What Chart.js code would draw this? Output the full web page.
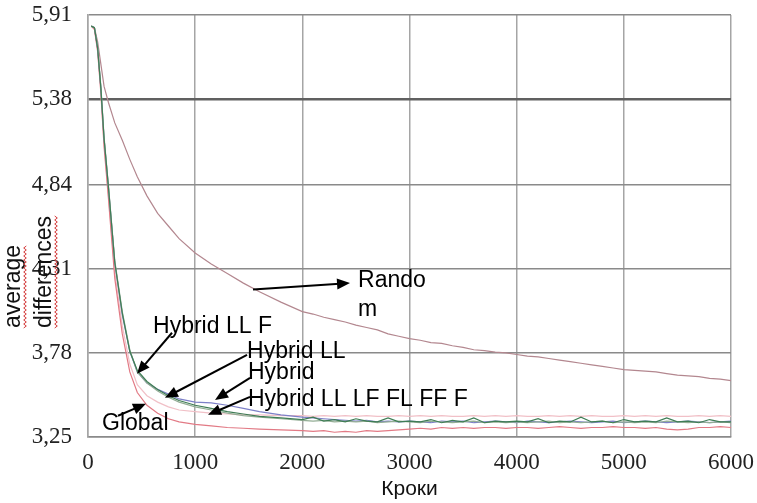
<!DOCTYPE html>
<html>
<head>
<meta charset="utf-8">
<script src="https://cdn.jsdelivr.net/npm/chart.js@4.4.1/dist/chart.umd.min.js"></script>
<style>
  body { margin: 0; background: #fff; }
</style>
</head>
<body>
<canvas id="convergence" width="757" height="503"></canvas>
<script>
  // steps (x) shared by every run
  const steps = [30, 60, 90, 120, 150, 190, 250, 320, 390, 460, 550, 650, 750, 850, 1000,
    1150, 1300, 1450, 1600, 1800, 2000, 2100, 2200, 2300, 2400, 2500, 2600, 2700, 2800, 2900,
    3000, 3100, 3200, 3300, 3400, 3500, 3600, 3700, 3800, 3900, 4000, 4100, 4200, 4300, 4400,
    4500, 4600, 4700, 4800, 4900, 5000, 5100, 5200, 5300, 5400, 5500, 5600, 5700, 5800, 5900, 6000];

  const randomRun = [5.84, 5.83, 5.74, 5.60, 5.46, 5.36, 5.23, 5.12, 5.00, 4.89, 4.77, 4.66, 4.58, 4.50, 4.41,
    4.34, 4.28, 4.22, 4.165, 4.10, 4.04, 4.025, 4.005, 3.99, 3.975, 3.955, 3.94, 3.925, 3.90, 3.885,
    3.87, 3.86, 3.845, 3.84, 3.825, 3.815, 3.80, 3.795, 3.785, 3.78, 3.77, 3.76, 3.755, 3.745, 3.735,
    3.725, 3.715, 3.705, 3.695, 3.685, 3.675, 3.67, 3.665, 3.66, 3.65, 3.64, 3.635, 3.63, 3.62, 3.615, 3.605];

  const hybridLLF = [5.84, 5.83, 5.71, 5.46, 5.14, 4.84, 4.36, 4.04, 3.80, 3.66, 3.59, 3.54, 3.50, 3.47, 3.44,
    3.42, 3.40, 3.385, 3.375, 3.365, 3.355, 3.35, 3.355, 3.345, 3.35, 3.345, 3.35, 3.34, 3.345, 3.35,
    3.345, 3.34, 3.35, 3.345, 3.34, 3.345, 3.35, 3.34, 3.345, 3.34, 3.345, 3.34, 3.345, 3.35, 3.34,
    3.345, 3.34, 3.345, 3.35, 3.34, 3.345, 3.34, 3.345, 3.34, 3.35, 3.345, 3.34, 3.345, 3.34, 3.345, 3.34];

  const hybridLL = [5.84, 5.83, 5.70, 5.45, 5.13, 4.83, 4.35, 4.03, 3.79, 3.67, 3.60, 3.55, 3.51, 3.48, 3.45,
    3.43, 3.41, 3.395, 3.38, 3.37, 3.36, 3.375, 3.35, 3.36, 3.345, 3.365, 3.35, 3.345, 3.37, 3.345,
    3.35, 3.345, 3.36, 3.34, 3.355, 3.345, 3.37, 3.34, 3.35, 3.345, 3.35, 3.345, 3.365, 3.34, 3.35,
    3.345, 3.375, 3.345, 3.35, 3.34, 3.36, 3.345, 3.35, 3.345, 3.37, 3.345, 3.35, 3.34, 3.36, 3.345, 3.345];

  const hybrid = [5.84, 5.83, 5.70, 5.45, 5.13, 4.83, 4.35, 4.02, 3.79, 3.66, 3.59, 3.55, 3.52, 3.49, 3.47,
    3.465, 3.45, 3.43, 3.41, 3.39, 3.375, 3.37, 3.365, 3.36, 3.355, 3.35, 3.355, 3.345, 3.35, 3.345,
    3.35, 3.345, 3.34, 3.35, 3.345, 3.35, 3.34, 3.345, 3.35, 3.345, 3.34, 3.35, 3.345, 3.34, 3.345,
    3.35, 3.345, 3.34, 3.345, 3.35, 3.34, 3.345, 3.35, 3.345, 3.34, 3.345, 3.35, 3.345, 3.34, 3.345, 3.35];

  const hybridAll = [5.84, 5.82, 5.69, 5.43, 5.10, 4.78, 4.29, 3.95, 3.71, 3.58, 3.51, 3.47, 3.44, 3.42, 3.41,
    3.40, 3.395, 3.39, 3.39, 3.385, 3.385, 3.38, 3.385, 3.38, 3.385, 3.38, 3.385, 3.38, 3.38, 3.385,
    3.38, 3.385, 3.38, 3.385, 3.38, 3.38, 3.385, 3.38, 3.385, 3.38, 3.385, 3.38, 3.38, 3.385, 3.38,
    3.385, 3.38, 3.385, 3.38, 3.38, 3.385, 3.38, 3.385, 3.38, 3.385, 3.38, 3.38, 3.385, 3.38, 3.385, 3.38];

  const globalRun = [5.84, 5.82, 5.68, 5.42, 5.08, 4.76, 4.25, 3.90, 3.66, 3.53, 3.45, 3.40, 3.365, 3.345, 3.33,
    3.32, 3.31, 3.305, 3.30, 3.295, 3.29, 3.285, 3.29, 3.28, 3.285, 3.28, 3.29, 3.285, 3.29, 3.295,
    3.30, 3.305, 3.30, 3.31, 3.305, 3.31, 3.305, 3.31, 3.31, 3.305, 3.31, 3.31, 3.305, 3.31, 3.315,
    3.31, 3.305, 3.31, 3.31, 3.315, 3.31, 3.31, 3.305, 3.31, 3.30, 3.295, 3.30, 3.31, 3.31, 3.315, 3.31];

  const yTicks = [3.25, 3.78, 4.31, 4.84, 5.38, 5.91];
  const xTicks = [0, 1000, 2000, 3000, 4000, 5000, 6000];

  // callouts: label text, label anchor, arrow tail and arrow head (in data units)
  const callouts = [
    { text: ["Rando", "m"], at: [2520, 4.234], from: [1540, 4.18], to: [2445, 4.22] },
    { text: ["Hybrid LL F"], at: [607, 3.944], from: [784, 3.907], to: [457, 3.648] },
    { text: ["Hybrid LL"], at: [1484, 3.787], from: [1484, 3.768], to: [718, 3.497] },
    { text: ["Hybrid"], at: [1493, 3.654], from: [1512, 3.623], to: [1185, 3.484] },
    { text: ["Hybrid LL LF FL FF F"], at: [1493, 3.484], from: [1512, 3.503], to: [1120, 3.39] },
    { text: ["Global"], at: [131, 3.333], from: [280, 3.384], to: [541, 3.459] },
  ];

  function toPoints(values) {
    return values.map((v, i) => ({ x: steps[i], y: v }));
  }

  function series(label, values, color) {
    return {
      label: label,
      data: toPoints(values),
      borderColor: color,
      borderWidth: 1.2,
      pointRadius: 0,
      tension: 0,
      fill: false,
    };
  }

  function arrow(ctx, x1, y1, x2, y2) {
    const ang = Math.atan2(y2 - y1, x2 - x1);
    const head = 13, half = 5.5;
    ctx.beginPath();
    ctx.moveTo(x1, y1);
    ctx.lineTo(x2 - Math.cos(ang) * head * 0.8, y2 - Math.sin(ang) * head * 0.8);
    ctx.stroke();
    ctx.beginPath();
    ctx.moveTo(x2, y2);
    ctx.lineTo(x2 - Math.cos(ang) * head - Math.sin(ang) * half, y2 - Math.sin(ang) * head + Math.cos(ang) * half);
    ctx.lineTo(x2 - Math.cos(ang) * head + Math.sin(ang) * half, y2 - Math.sin(ang) * head - Math.cos(ang) * half);
    ctx.closePath();
    ctx.fill();
  }

  function wavy(ctx, x, yStart, yEnd) {
    ctx.beginPath();
    let k = 0;
    for (let y = yStart; y >= yEnd; y -= 2) {
      const xx = x + (k % 2 === 0 ? -1.3 : 1.3);
      if (k === 0) ctx.moveTo(xx, y); else ctx.lineTo(xx, y);
      k++;
    }
    ctx.stroke();
  }

  const calloutPlugin = {
    id: "callouts",
    afterDraw(chart) {
      const ctx = chart.ctx;
      const xs = chart.scales.x, ys = chart.scales.y;
      const area = chart.chartArea;
      ctx.save();

      ctx.strokeStyle = "#000";
      ctx.fillStyle = "#000";
      ctx.lineWidth = 2;
      callouts.forEach(c => {
        arrow(ctx, xs.getPixelForValue(c.from[0]), ys.getPixelForValue(c.from[1]),
          xs.getPixelForValue(c.to[0]), ys.getPixelForValue(c.to[1]));
      });

      ctx.font = '23px "Liberation Sans"';
      ctx.textAlign = "left";
      ctx.textBaseline = "middle";
      callouts.forEach(c => {
        const px = xs.getPixelForValue(c.at[0]);
        const py = ys.getPixelForValue(c.at[1]);
        c.text.forEach((line, i) => ctx.fillText(line, px, py + i * 29));
      });

      // x axis title
      ctx.font = '21px "Liberation Sans"';
      ctx.textAlign = "center";
      ctx.fillStyle = "#111";
      ctx.fillText("Кроки", (area.left + area.right) / 2, area.bottom + 52);

      // y axis title, two rotated lines
      ctx.font = '23px "Liberation Sans"';
      ctx.textAlign = "left";
      ctx.textBaseline = "alphabetic";
      const titleLines = [["average", 20], ["differences", 51]];
      titleLines.forEach(([t, bx]) => {
        ctx.save();
        ctx.translate(bx, 328);
        ctx.rotate(-Math.PI / 2);
        ctx.fillStyle = "#111";
        ctx.fillText(t, 0, 0);
        ctx.restore();
        const w = ctx.measureText(t).width;
        ctx.strokeStyle = "#d43a3a";
        ctx.lineWidth = 1;
        wavy(ctx, bx + 5, 328, 328 - w);
      });
      ctx.restore();
    },
  };

  const ctx = document.getElementById("convergence").getContext("2d");
  const chart = new Chart(ctx, {
    type: "line",
    data: {
      datasets: [
        series("Hybrid LL", hybridLL, "#3f7d55"),
        series("Hybrid LL F", hybridLLF, "#93ad95"),
        series("Hybrid", hybrid, "#7d80c8"),
        series("Global", globalRun, "#e27a85"),
        series("Hybrid LL LF FL FF F", hybridAll, "#f1c0c7"),
        series("Random", randomRun, "#b3878f"),
      ],
    },
    options: {
      responsive: false,
      animation: false,
      layout: { padding: 0 },
      plugins: {
        legend: { display: false },
        tooltip: { enabled: false },
      },
      scales: {
        x: {
          type: "linear",
          min: 0,
          max: 6000,
          afterFit: s => {
            s.height = 66;
            s.paddingLeft = 0;
            s.paddingRight = 26;
          },
          afterBuildTicks: s => { s.ticks = xTicks.map(v => ({ value: v })); },
          ticks: {
            padding: 12,
            color: "#222",
            font: { family: "Liberation Serif", size: 23 },
            callback: v => String(v),
          },
          grid: { color: "#a5a5a5", lineWidth: 1.5, drawTicks: false },
          border: { color: "#8a8a8a", width: 1.5 },
        },
        y: {
          min: 3.25,
          max: 5.91,
          afterFit: s => {
            s.width = 88;
            s.paddingTop = 15;
            s.paddingBottom = 0;
          },
          afterBuildTicks: s => { s.ticks = yTicks.map(v => ({ value: v })); },
          ticks: {
            padding: 16,
            color: "#222",
            font: { family: "Liberation Serif", size: 23 },
            callback: v => v.toFixed(2).replace(".", ","),
          },
          grid: {
            drawTicks: false,
            color: c => (c.tick && c.tick.value === 5.38 ? "#606060" : "#8a8a8a"),
            lineWidth: c => (c.tick && c.tick.value === 5.38 ? 2.5 : 1.5),
          },
          border: { color: "#a5a5a5", width: 1.5 },
        },
      },
    },
    plugins: [calloutPlugin],
  });
</script>
</body>
</html>
